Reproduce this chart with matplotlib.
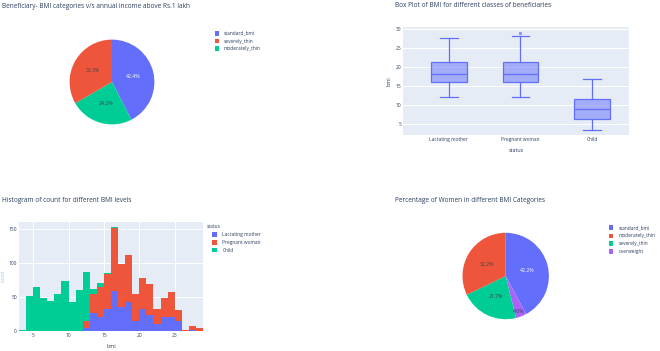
import matplotlib
matplotlib.use("Agg")
import matplotlib.pyplot as plt
from matplotlib.patches import Rectangle
import numpy as np

# ---------------- data ----------------
pie1_labels = ["standard_bmi", "moderately_thin", "severely_thin"]
pie1_values = [42.4, 24.2, 33.3]
pie1_legend_order = ["standard_bmi", "severely_thin", "moderately_thin"]

box_categories = ["Lactating mother", "Pregnant woman", "Child"]
box_low = [12.1, 12.1, 3.6]
box_q1 = [16.1, 16.1, 6.3]
box_med = [18.2, 18.1, 8.9]
box_q3 = [21.3, 21.3, 11.6]
box_high = [27.7, 28.2, 16.8]
box_outliers = [[], [29.0], []]

hist_bin_left = list(range(3, 29))
hist_lactating = [0, 0, 0, 0, 0, 0, 0, 0, 0, 4, 26, 20, 33, 58, 35, 43, 15, 33, 23, 11, 21, 20, 14, 0, 1, 0]
hist_pregnant = [0, 0, 0, 0, 0, 0, 0, 0, 0, 11, 28, 44, 51, 93, 63, 69, 40, 45, 46, 22, 27, 37, 17, 1, 6, 4]
hist_child = [2, 51, 64, 48, 44, 55, 74, 43, 60, 72, 8, 7, 1, 1, 0, 0, 0, 0, 0, 0, 0, 0, 0, 0, 0, 0]
hist_series = ["Lactating mother", "Pregnant woman", "Child"]

pie2_labels = ["standard_bmi", "overweight", "severely_thin", "moderately_thin"]
pie2_values = [42.2, 4.0, 21.7, 32.2]
pie2_legend_order = ["standard_bmi", "moderately_thin", "severely_thin", "overweight"]

# ---------------- style ----------------
BLUE, RED, GREEN, PURPLE = "#636EFA", "#EF553B", "#00CC96", "#AB63FA"
plotly_seq = [BLUE, RED, GREEN, PURPLE]
cmap1 = dict(zip(pie1_legend_order, plotly_seq))
cmap2 = dict(zip(pie2_legend_order, plotly_seq))
hist_colors = [BLUE, RED, GREEN]
BG = "#E5ECF6"
TXT = "#2a3f5f"
FONT = ["Open Sans", "DejaVu Sans"]
plt.rcParams["font.family"] = FONT

W, H = 660, 351
fig = plt.figure(figsize=(W / 100, H / 100), dpi=100)


def axes_px(x0, y0, x1, y1):
    return fig.add_axes([x0 / W, 1 - y1 / H, (x1 - x0) / W, (y1 - y0) / H])


def ftext(x, y, s, **kw):
    kw.setdefault("color", TXT)
    kw.setdefault("va", "center")
    fig.text(x / W, 1 - y / H, s, **kw)


TITLE_FS = 4.7
TICK_FS = 3.5
LEG_FS = 3.5
AXT_FS = 3.9


def legend_px(x_sq, ys, labels, colors, x_txt):
    for y, lab, c in zip(ys, labels, colors):
        fig.patches.append(Rectangle(((x_sq - 2.4) / W, 1 - (y + 2.4) / H), 4.8 / W, 4.8 / H,
                                     transform=fig.transFigure, facecolor=c, edgecolor="none"))
        ftext(x_txt, y, lab, fontsize=LEG_FS, ha="left")


def draw_pie(ax, values, labels, cmap, small_threshold=6):
    ax.set_xlim(-1, 1)
    ax.set_ylim(-1, 1)
    ax.set_aspect("equal")
    ax.axis("off")
    wedges, texts, autotexts = ax.pie(values, colors=[cmap[l] for l in labels], startangle=90,
                                      counterclock=False, radius=1, autopct="%1.1f%%",
                                      pctdistance=0.52, wedgeprops=dict(linewidth=0),
                                      textprops=dict(fontsize=3.7))
    total = sum(values)
    for w, t, v, l in zip(wedges, autotexts, values, labels):
        pct = 100 * v / total
        t.set_color("white" if cmap[l] == BLUE else "#444444")
        if pct < small_threshold:
            ang = np.deg2rad((w.theta1 + w.theta2) / 2)
            t.set_position((0.87 * np.cos(ang), 0.87 * np.sin(ang)))
            t.set_color(TXT)


# ---------------- top-left pie ----------------
ax1 = axes_px(59, 29, 165, 135)
draw_pie(ax1, pie1_values, pie1_labels, cmap1)
ftext(2, 6, "Beneficiary- BMI categories v/s annual income above Rs.1 lakh", fontsize=TITLE_FS, ha="left")
legend_px(217, [33.3, 41.0, 48.7], pie1_legend_order, [cmap1[l] for l in pie1_legend_order], 224)

# ---------------- top-right box plot ----------------
ax2 = axes_px(403.3, 26.7, 629, 135)
ax2.set_facecolor(BG)
stats = []
for i, name in enumerate(box_categories):
    stats.append(dict(label=name, whislo=box_low[i], q1=box_q1[i], med=box_med[i],
                      q3=box_q3[i], whishi=box_high[i], fliers=box_outliers[i]))
ax2.bxp(stats, positions=range(len(box_categories)), widths=0.5, patch_artist=True, showfliers=True,
        boxprops=dict(facecolor=(0.388, 0.431, 0.98, 0.5), edgecolor=BLUE, linewidth=0.9),
        medianprops=dict(color=BLUE, linewidth=0.9),
        whiskerprops=dict(color=BLUE, linewidth=0.9),
        capprops=dict(color=BLUE, linewidth=0.9), capwidths=0.25,
        flierprops=dict(marker="s", markersize=1.8, markerfacecolor=(0.388, 0.431, 0.98, 0.6),
                        markeredgecolor=BLUE, markeredgewidth=0.4))
ax2.set_xlim(-0.632, 2.511)
ax2.set_ylim(2.19, 30.6)
ax2.set_yticks([5, 10, 15, 20, 25, 30])
ax2.grid(axis="y", color="white", linewidth=0.7)
ax2.set_axisbelow(True)
for s in ax2.spines.values():
    s.set_visible(False)
ax2.tick_params(length=0, labelsize=TICK_FS, labelcolor=TXT, pad=1.5)
ax2.set_xticks(range(len(box_categories)))
ax2.set_xticklabels(box_categories)
ax2.set_ylabel("bmi", fontsize=AXT_FS, color=TXT, labelpad=3)
ax2.set_xlabel("status", fontsize=AXT_FS, color=TXT, labelpad=4)
ftext(395, 5.3, "Box Plot of BMI for different classes of beneficiaries", fontsize=TITLE_FS, ha="left")

# ---------------- bottom-left histogram ----------------
ax3 = axes_px(19, 222, 203, 331)
ax3.set_facecolor(BG)
bottom = np.zeros(len(hist_bin_left))
for vals, c in zip([hist_lactating, hist_pregnant, hist_child], hist_colors):
    ax3.bar(hist_bin_left, vals, width=1, align="edge", bottom=bottom, color=c, linewidth=0)
    bottom = bottom + np.array(vals)
ax3.set_xlim(3, 29)
ax3.set_ylim(0, 160)
ax3.set_xticks([5, 10, 15, 20, 25])
ax3.set_yticks([0, 50, 100, 150])
ax3.grid(color="white", linewidth=0.7)
ax3.set_axisbelow(True)
for s in ax3.spines.values():
    s.set_visible(False)
ax3.tick_params(length=0, labelsize=TICK_FS, labelcolor=TXT, pad=1.5)
ax3.set_xlabel("bmi", fontsize=AXT_FS, color=TXT, labelpad=4)
ftext(3.2, 276, "count", fontsize=3.4, color="#a8c8e8", ha="center", rotation=90)
ftext(2, 200, "Histogram of count for different BMI levels", fontsize=TITLE_FS, ha="left")
ftext(207, 227, "status", fontsize=LEG_FS, ha="left")
legend_px(214.5, [234.7, 242.3, 250.0], hist_series, hist_colors, 222.5)

# ---------------- bottom-right pie ----------------
ax4 = axes_px(451.7, 222, 559.7, 330)
draw_pie(ax4, pie2_values, pie2_labels, cmap2)
ftext(395, 200, "Percentage of Women in different BMI Categories", fontsize=TITLE_FS, ha="left")
legend_px(611, [227.7, 236.0, 243.7, 251.3], pie2_legend_order, [cmap2[l] for l in pie2_legend_order], 618.7)

fig.savefig("out.png", dpi=100, facecolor="white")
